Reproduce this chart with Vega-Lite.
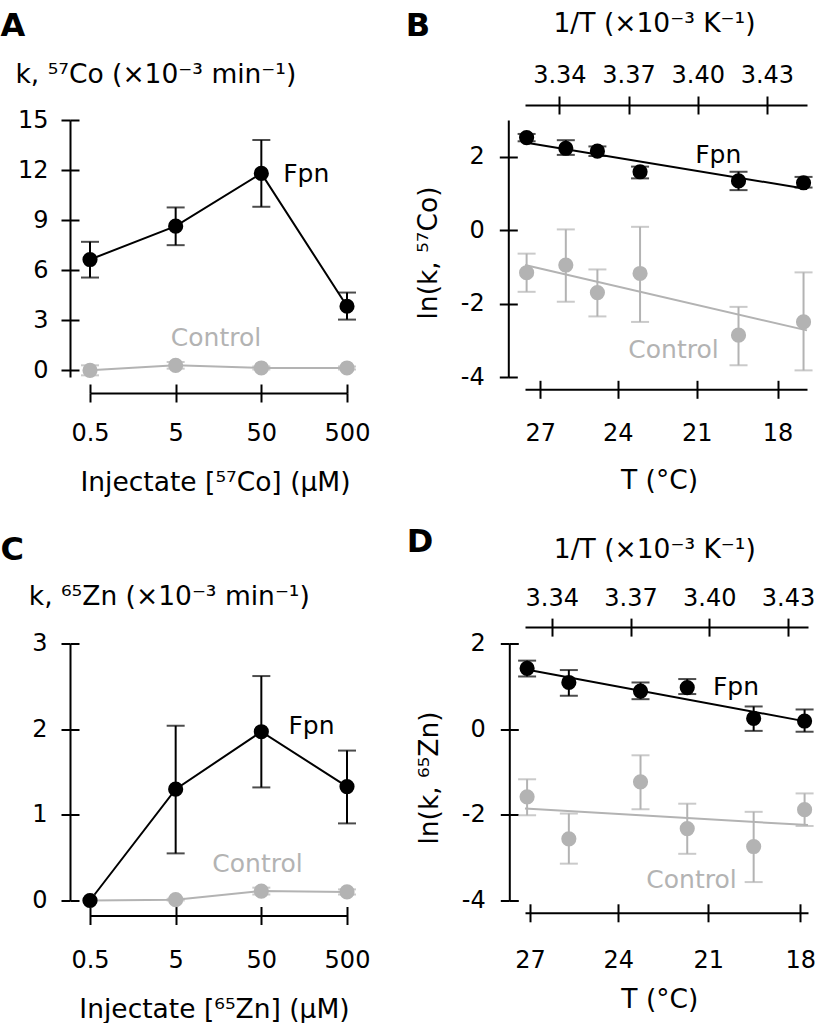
{
  "$schema": "https://vega.github.io/schema/vega-lite/v6.json",
  "autosize": {"type": "pad"},
  "padding": {"left": 0, "top": 9, "right": 0, "bottom": 5},
  "background": "white",
  "datasets": {
    "a": [
      {"series": "Control", "conc": 0.5, "k": 0.0, "lo": -0.3, "hi": 0.3},
      {"series": "Control", "conc": 5, "k": 0.3, "lo": 0.1, "hi": 0.5},
      {"series": "Control", "conc": 50, "k": 0.14, "lo": 0.05, "hi": 0.23},
      {"series": "Control", "conc": 500, "k": 0.14, "lo": 0.05, "hi": 0.23},
      {"series": "Fpn", "conc": 0.5, "k": 6.64, "lo": 5.56, "hi": 7.7},
      {"series": "Fpn", "conc": 5, "k": 8.64, "lo": 7.5, "hi": 9.76},
      {"series": "Fpn", "conc": 50, "k": 11.8, "lo": 9.8, "hi": 13.8},
      {"series": "Fpn", "conc": 500, "k": 3.84, "lo": 3.04, "hi": 4.66}
    ],
    "a_lab": [
      {"series": "Fpn", "label": "Fpn", "conc": 90, "k": 11.75},
      {"series": "Control", "label": "Control", "conc": 4.39, "k": 1.95}
    ],
    "c": [
      {"series": "Control", "conc": 0.5, "k": 0.0, "lo": null, "hi": null},
      {"series": "Control", "conc": 5, "k": 0.01, "lo": 0.0, "hi": 0.02},
      {"series": "Control", "conc": 50, "k": 0.11, "lo": 0.07, "hi": 0.15},
      {"series": "Control", "conc": 500, "k": 0.1, "lo": 0.07, "hi": 0.13},
      {"series": "Fpn", "conc": 0.5, "k": 0.0, "lo": null, "hi": null},
      {"series": "Fpn", "conc": 5, "k": 1.3, "lo": 0.55, "hi": 2.04},
      {"series": "Fpn", "conc": 50, "k": 1.97, "lo": 1.32, "hi": 2.62},
      {"series": "Fpn", "conc": 500, "k": 1.33, "lo": 0.9, "hi": 1.75}
    ],
    "c_lab": [
      {"series": "Fpn", "label": "Fpn", "conc": 103.5, "k": 2.04},
      {"series": "Control", "label": "Control", "conc": 13.4, "k": 0.43}
    ],
    "b": [
      {"series": "Control", "invT": 3.3258, "y": -1.16, "lo": -1.68, "hi": -0.64},
      {"series": "Control", "invT": 3.3428, "y": -0.95, "lo": -1.95, "hi": 0.02},
      {"series": "Control", "invT": 3.3565, "y": -1.7, "lo": -2.35, "hi": -1.07},
      {"series": "Control", "invT": 3.375, "y": -1.18, "lo": -2.5, "hi": 0.09},
      {"series": "Control", "invT": 3.4177, "y": -2.86, "lo": -3.68, "hi": -2.09},
      {"series": "Control", "invT": 3.4459, "y": -2.5, "lo": -3.82, "hi": -1.15},
      {"series": "Fpn", "invT": 3.3258, "y": 2.52, "lo": 2.42, "hi": 2.62},
      {"series": "Fpn", "invT": 3.3428, "y": 2.23, "lo": 2.05, "hi": 2.45},
      {"series": "Fpn", "invT": 3.3565, "y": 2.15, "lo": 2.02, "hi": 2.28},
      {"series": "Fpn", "invT": 3.375, "y": 1.59, "lo": 1.41, "hi": 1.73},
      {"series": "Fpn", "invT": 3.4177, "y": 1.34, "lo": 1.09, "hi": 1.59},
      {"series": "Fpn", "invT": 3.4459, "y": 1.29, "lo": 1.16, "hi": 1.45}
    ],
    "b_fit": [
      {"series": "Control", "invT": 3.3251, "y": -0.95},
      {"series": "Control", "invT": 3.4474, "y": -2.73},
      {"series": "Fpn", "invT": 3.3251, "y": 2.39},
      {"series": "Fpn", "invT": 3.4474, "y": 1.12}
    ],
    "b_lab": [
      {"series": "Fpn", "label": "Fpn", "invT": 3.3989, "y": 2.05},
      {"series": "Control", "label": "Control", "invT": 3.3699, "y": -3.26}
    ],
    "d": [
      {"series": "Control", "invT": 3.3306, "y": -1.58, "lo": -2.01, "hi": -1.17},
      {"series": "Control", "invT": 3.3465, "y": -2.56, "lo": -3.14, "hi": -1.97},
      {"series": "Control", "invT": 3.3738, "y": -1.23, "lo": -1.87, "hi": -0.61},
      {"series": "Control", "invT": 3.3916, "y": -2.32, "lo": -2.91, "hi": -1.74},
      {"series": "Control", "invT": 3.4169, "y": -2.74, "lo": -3.57, "hi": -1.93},
      {"series": "Control", "invT": 3.4363, "y": -1.88, "lo": -2.26, "hi": -1.5},
      {"series": "Fpn", "invT": 3.3306, "y": 1.42, "lo": 1.23, "hi": 1.6},
      {"series": "Fpn", "invT": 3.3465, "y": 1.09, "lo": 0.78, "hi": 1.38},
      {"series": "Fpn", "invT": 3.3738, "y": 0.89, "lo": 0.7, "hi": 1.09},
      {"series": "Fpn", "invT": 3.3916, "y": 0.97, "lo": 0.82, "hi": 1.17},
      {"series": "Fpn", "invT": 3.4169, "y": 0.25, "lo": -0.04, "hi": 0.53},
      {"series": "Fpn", "invT": 3.4363, "y": 0.19, "lo": -0.06, "hi": 0.46}
    ],
    "d_fit": [
      {"series": "Control", "invT": 3.3298, "y": -1.85},
      {"series": "Control", "invT": 3.4376, "y": -2.24},
      {"series": "Fpn", "invT": 3.3298, "y": 1.4},
      {"series": "Fpn", "invT": 3.4376, "y": 0.17}
    ],
    "d_lab": [
      {"series": "Fpn", "label": "Fpn", "invT": 3.4014, "y": 0.99},
      {"series": "Control", "label": "Control", "invT": 3.376, "y": -3.52}
    ]
  },
  "columns": 2,
  "bounds": "flush",
  "spacing": {"row": 266.5, "column": 178},
  "concat": [
    {
      "width": 257, "height": 257,
      "layer": [
        {"data": {"name": "a"}, "mark": {"type": "line", "strokeWidth": 2},
         "encoding": {
           "x": {"field": "conc", "type": "quantitative", "scale": {"type": "log", "domain": [0.5, 500], "nice": false},
                 "axis": {"orient": "bottom", "offset": 16, "values": [0.5, 5, 50, 500], "labelExpr": "''+datum.value", "tickSize": 9, "labelPadding": 19.5, "title": "Injectate [⁵⁷Co] (μM)", "titleAlign": "center", "titleBaseline": "alphabetic", "titleX": 125, "titleY": 97}},
           "y": {"field": "k", "type": "quantitative", "scale": {"domain": [-0.4, 15], "nice": false, "zero": false},
                 "axis": {"orient": "left", "offset": 20, "values": [0, 3, 6, 9, 12, 15], "labelExpr": "''+datum.value", "tickSize": 9, "labelPadding": 13, "title": "k, ⁵⁷Co (×10⁻³ min⁻¹)", "titleAngle": 0, "titleAlign": "left", "titleBaseline": "alphabetic", "titleX": -55, "titleY": -38}},
           "color": {"field": "series", "type": "nominal", "scale": {"domain": ["Fpn", "Control"], "range": ["#000000", "#b3b3b3"]}, "legend": null}
         }},
        {"data": {"name": "a"}, "mark": {"type": "rule", "strokeWidth": 2},
         "encoding": {
           "x": {"field": "conc", "type": "quantitative", "scale": {"type": "log", "domain": [0.5, 500], "nice": false},
                 "axis": {"orient": "bottom", "offset": 16, "values": [0.5, 5, 50, 500], "tickSize": -9, "labels": false, "domain": false, "title": null}},
           "y": {"field": "lo", "type": "quantitative", "scale": {"domain": [-0.4, 15], "nice": false, "zero": false},
                 "axis": {"orient": "left", "offset": 20, "values": [0, 3, 6, 9, 12, 15], "tickSize": -9, "labels": false, "domain": false, "title": "A", "titleFontSize": 32, "titleFontWeight": "bold", "titleAngle": 0, "titleAlign": "left", "titleBaseline": "alphabetic", "titleX": -70, "titleY": -85}},
           "y2": {"field": "hi"},
           "color": {"field": "series", "type": "nominal", "scale": {"domain": ["Fpn", "Control"], "range": ["#000000", "#b3b3b3"]}, "legend": null}
         }},
        {"data": {"name": "a"}, "mark": {"type": "tick", "orient": "horizontal", "size": 18, "thickness": 2},
         "encoding": {
           "x": {"field": "conc", "type": "quantitative", "scale": {"type": "log", "domain": [0.5, 500], "nice": false}, "axis": null},
           "y": {"field": "hi", "type": "quantitative", "scale": {"domain": [-0.4, 15], "nice": false, "zero": false}, "axis": null},
           "color": {"field": "series", "type": "nominal", "scale": {"domain": ["Fpn", "Control"], "range": ["#000000", "#b3b3b3"]}, "legend": null}
         }},
        {"data": {"name": "a"}, "mark": {"type": "tick", "orient": "horizontal", "size": 18, "thickness": 2},
         "encoding": {
           "x": {"field": "conc", "type": "quantitative", "scale": {"type": "log", "domain": [0.5, 500], "nice": false}, "axis": null},
           "y": {"field": "lo", "type": "quantitative", "scale": {"domain": [-0.4, 15], "nice": false, "zero": false}, "axis": null},
           "color": {"field": "series", "type": "nominal", "scale": {"domain": ["Fpn", "Control"], "range": ["#000000", "#b3b3b3"]}, "legend": null}
         }},
        {"data": {"name": "a"}, "mark": {"type": "point", "filled": true, "size": 230, "opacity": 1},
         "encoding": {
           "x": {"field": "conc", "type": "quantitative", "scale": {"type": "log", "domain": [0.5, 500], "nice": false}, "axis": null},
           "y": {"field": "k", "type": "quantitative", "scale": {"domain": [-0.4, 15], "nice": false, "zero": false}, "axis": null},
           "color": {"field": "series", "type": "nominal", "scale": {"domain": ["Fpn", "Control"], "range": ["#000000", "#b3b3b3"]}, "legend": null}
         }},
        {"data": {"name": "a_lab"}, "mark": {"type": "text", "align": "left", "baseline": "middle", "fontSize": 25},
         "encoding": {
           "x": {"field": "conc", "type": "quantitative", "scale": {"type": "log", "domain": [0.5, 500], "nice": false}, "axis": null},
           "y": {"field": "k", "type": "quantitative", "scale": {"domain": [-0.4, 15], "nice": false, "zero": false}, "axis": null},
           "text": {"field": "label"},
           "color": {"field": "series", "type": "nominal", "scale": {"domain": ["Fpn", "Control"], "range": ["#000000", "#b3b3b3"]}, "legend": null}
         }}
      ],
      "resolve": {"axis": {"x": "independent", "y": "independent"}}
    },
    {
      "width": 282, "height": 257,
      "layer": [
        {"data": {"name": "b_fit"}, "mark": {"type": "line", "strokeWidth": 2},
         "encoding": {
           "x": {"field": "invT", "type": "quantitative", "scale": {"domain": [3.3251, 3.4474], "nice": false, "zero": false},
                 "axis": {"orient": "top", "offset": 15, "values": [3.34, 3.37, 3.40, 3.43], "format": ".2f", "tickSize": 9, "labelPadding": 9, "title": "1/T (×10⁻³ K⁻¹)", "titleAlign": "center", "titleBaseline": "alphabetic", "titleX": 129, "titleY": -74}},
           "y": {"field": "y", "type": "quantitative", "scale": {"domain": [-4, 3], "nice": false, "zero": false},
                 "axis": {"orient": "left", "offset": 16.7, "values": [-4, -2, 0, 2], "labelExpr": "''+datum.value", "tickSize": 9, "labelPadding": 15, "title": "ln(k, ⁵⁷Co)", "titleAngle": -90, "titleAlign": "center", "titleBaseline": "alphabetic", "titleX": -71.6, "titleY": 132.5}},
           "color": {"field": "series", "type": "nominal", "scale": {"domain": ["Fpn", "Control"], "range": ["#000000", "#b3b3b3"]}, "legend": null}
         }},
        {"data": {"name": "b"}, "mark": {"type": "rule", "strokeWidth": 2},
         "encoding": {
           "x": {"field": "invT", "type": "quantitative", "scale": {"domain": [3.3251, 3.4474], "nice": false, "zero": false},
                 "axis": {"orient": "top", "offset": 15, "values": [3.34, 3.37, 3.40, 3.43], "tickSize": -9, "labels": false, "domain": false, "title": null}},
           "y": {"field": "lo", "type": "quantitative", "scale": {"domain": [-4, 3], "nice": false, "zero": false},
                 "axis": {"orient": "left", "offset": 16.7, "values": [-4, -2, 0, 2], "tickSize": -9, "labels": false, "domain": false, "title": "B", "titleFontSize": 32, "titleFontWeight": "bold", "titleAngle": 0, "titleAlign": "left", "titleBaseline": "alphabetic", "titleX": -103, "titleY": -85}},
           "y2": {"field": "hi"},
           "color": {"field": "series", "type": "nominal", "scale": {"domain": ["Fpn", "Control"], "range": ["#000000", "#b3b3b3"]}, "legend": null}
         }},
        {"data": {"name": "b"}, "mark": {"type": "tick", "orient": "horizontal", "size": 18, "thickness": 2},
         "encoding": {
           "x": {"field": "invT", "type": "quantitative", "scale": {"domain": [3.3251, 3.4474], "nice": false, "zero": false},
                 "axis": {"orient": "bottom", "offset": 12.3, "values": [3.331667, 3.365304, 3.399626, 3.434656], "labelExpr": "format(1000/datum.value - 273.15, '.0f')", "tickSize": 9, "labelPadding": 23, "title": "T (°C)", "titleAlign": "center", "titleBaseline": "alphabetic", "titleX": 134, "titleY": 99}},
           "y": {"field": "hi", "type": "quantitative", "scale": {"domain": [-4, 3], "nice": false, "zero": false}, "axis": null},
           "color": {"field": "series", "type": "nominal", "scale": {"domain": ["Fpn", "Control"], "range": ["#000000", "#b3b3b3"]}, "legend": null}
         }},
        {"data": {"name": "b"}, "mark": {"type": "tick", "orient": "horizontal", "size": 18, "thickness": 2},
         "encoding": {
           "x": {"field": "invT", "type": "quantitative", "scale": {"domain": [3.3251, 3.4474], "nice": false, "zero": false},
                 "axis": {"orient": "bottom", "offset": 12.3, "values": [3.331667, 3.365304, 3.399626, 3.434656], "tickSize": -9, "labels": false, "domain": false, "title": null}},
           "y": {"field": "lo", "type": "quantitative", "scale": {"domain": [-4, 3], "nice": false, "zero": false}, "axis": null},
           "color": {"field": "series", "type": "nominal", "scale": {"domain": ["Fpn", "Control"], "range": ["#000000", "#b3b3b3"]}, "legend": null}
         }},
        {"data": {"name": "b"}, "mark": {"type": "point", "filled": true, "size": 230, "opacity": 1},
         "encoding": {
           "x": {"field": "invT", "type": "quantitative", "scale": {"domain": [3.3251, 3.4474], "nice": false, "zero": false}, "axis": null},
           "y": {"field": "y", "type": "quantitative", "scale": {"domain": [-4, 3], "nice": false, "zero": false}, "axis": null},
           "color": {"field": "series", "type": "nominal", "scale": {"domain": ["Fpn", "Control"], "range": ["#000000", "#b3b3b3"]}, "legend": null}
         }},
        {"data": {"name": "b_lab"}, "mark": {"type": "text", "align": "left", "baseline": "middle", "fontSize": 25},
         "encoding": {
           "x": {"field": "invT", "type": "quantitative", "scale": {"domain": [3.3251, 3.4474], "nice": false, "zero": false}, "axis": null},
           "y": {"field": "y", "type": "quantitative", "scale": {"domain": [-4, 3], "nice": false, "zero": false}, "axis": null},
           "text": {"field": "label"},
           "color": {"field": "series", "type": "nominal", "scale": {"domain": ["Fpn", "Control"], "range": ["#000000", "#b3b3b3"]}, "legend": null}
         }}
      ],
      "resolve": {"axis": {"x": "independent", "y": "independent"}}
    },
    {
      "width": 257, "height": 257,
      "layer": [
        {"data": {"name": "c"}, "mark": {"type": "line", "strokeWidth": 2},
         "encoding": {
           "x": {"field": "conc", "type": "quantitative", "scale": {"type": "log", "domain": [0.5, 500], "nice": false},
                 "axis": {"orient": "bottom", "offset": 15, "values": [0.5, 5, 50, 500], "labelExpr": "''+datum.value", "tickSize": 9, "labelPadding": 24, "title": "Injectate [⁶⁵Zn] (μM)", "titleAlign": "center", "titleBaseline": "alphabetic", "titleX": 124, "titleY": 101.7}},
           "y": {"field": "k", "type": "quantitative", "scale": {"domain": [0, 3], "nice": false, "zero": false},
                 "axis": {"orient": "left", "offset": 20, "values": [0, 1, 2, 3], "labelExpr": "''+datum.value", "tickSize": 9, "labelPadding": 14, "title": "k, ⁶⁵Zn (×10⁻³ min⁻¹)", "titleAngle": 0, "titleAlign": "left", "titleBaseline": "alphabetic", "titleX": -41.7, "titleY": -39}},
           "color": {"field": "series", "type": "nominal", "scale": {"domain": ["Fpn", "Control"], "range": ["#000000", "#b3b3b3"]}, "legend": null}
         }},
        {"data": {"name": "c"}, "mark": {"type": "rule", "strokeWidth": 2},
         "encoding": {
           "x": {"field": "conc", "type": "quantitative", "scale": {"type": "log", "domain": [0.5, 500], "nice": false},
                 "axis": {"orient": "bottom", "offset": 15, "values": [0.5, 5, 50, 500], "tickSize": -9, "labels": false, "domain": false, "title": null}},
           "y": {"field": "lo", "type": "quantitative", "scale": {"domain": [0, 3], "nice": false, "zero": false},
                 "axis": {"orient": "left", "offset": 20, "values": [0, 1, 2, 3], "tickSize": -9, "labels": false, "domain": false, "title": "C", "titleFontSize": 32, "titleFontWeight": "bold", "titleAngle": 0, "titleAlign": "left", "titleBaseline": "alphabetic", "titleX": -70, "titleY": -84}},
           "y2": {"field": "hi"},
           "color": {"field": "series", "type": "nominal", "scale": {"domain": ["Fpn", "Control"], "range": ["#000000", "#b3b3b3"]}, "legend": null}
         }},
        {"data": {"name": "c"}, "mark": {"type": "tick", "orient": "horizontal", "size": 18, "thickness": 2},
         "encoding": {
           "x": {"field": "conc", "type": "quantitative", "scale": {"type": "log", "domain": [0.5, 500], "nice": false}, "axis": null},
           "y": {"field": "hi", "type": "quantitative", "scale": {"domain": [0, 3], "nice": false, "zero": false}, "axis": null},
           "color": {"field": "series", "type": "nominal", "scale": {"domain": ["Fpn", "Control"], "range": ["#000000", "#b3b3b3"]}, "legend": null}
         }},
        {"data": {"name": "c"}, "mark": {"type": "tick", "orient": "horizontal", "size": 18, "thickness": 2},
         "encoding": {
           "x": {"field": "conc", "type": "quantitative", "scale": {"type": "log", "domain": [0.5, 500], "nice": false}, "axis": null},
           "y": {"field": "lo", "type": "quantitative", "scale": {"domain": [0, 3], "nice": false, "zero": false}, "axis": null},
           "color": {"field": "series", "type": "nominal", "scale": {"domain": ["Fpn", "Control"], "range": ["#000000", "#b3b3b3"]}, "legend": null}
         }},
        {"data": {"name": "c"}, "mark": {"type": "point", "filled": true, "size": 230, "opacity": 1},
         "encoding": {
           "x": {"field": "conc", "type": "quantitative", "scale": {"type": "log", "domain": [0.5, 500], "nice": false}, "axis": null},
           "y": {"field": "k", "type": "quantitative", "scale": {"domain": [0, 3], "nice": false, "zero": false}, "axis": null},
           "color": {"field": "series", "type": "nominal", "scale": {"domain": ["Fpn", "Control"], "range": ["#000000", "#b3b3b3"]}, "legend": null}
         }},
        {"data": {"name": "c_lab"}, "mark": {"type": "text", "align": "left", "baseline": "middle", "fontSize": 25},
         "encoding": {
           "x": {"field": "conc", "type": "quantitative", "scale": {"type": "log", "domain": [0.5, 500], "nice": false}, "axis": null},
           "y": {"field": "k", "type": "quantitative", "scale": {"domain": [0, 3], "nice": false, "zero": false}, "axis": null},
           "text": {"field": "label"},
           "color": {"field": "series", "type": "nominal", "scale": {"domain": ["Fpn", "Control"], "range": ["#000000", "#b3b3b3"]}, "legend": null}
         }}
      ],
      "resolve": {"axis": {"x": "independent", "y": "independent"}}
    },
    {
      "width": 283, "height": 257,
      "layer": [
        {"data": {"name": "d_fit"}, "mark": {"type": "line", "strokeWidth": 2},
         "encoding": {
           "x": {"field": "invT", "type": "quantitative", "scale": {"domain": [3.3298, 3.4376], "nice": false, "zero": false},
                 "axis": {"orient": "top", "offset": 16.4, "values": [3.34, 3.37, 3.40, 3.43], "format": ".2f", "tickSize": 9, "labelPadding": 8, "title": "1/T (×10⁻³ K⁻¹)", "titleAlign": "center", "titleBaseline": "alphabetic", "titleX": 129.3, "titleY": -69.6}},
           "y": {"field": "y", "type": "quantitative", "scale": {"domain": [-4, 2], "nice": false, "zero": false},
                 "axis": {"orient": "left", "offset": 15.7, "values": [-4, -2, 0, 2], "labelExpr": "''+datum.value", "tickSize": 9, "labelPadding": 15, "title": "ln(k, ⁶⁵Zn)", "titleAngle": -90, "titleAlign": "center", "titleBaseline": "alphabetic", "titleX": -71.6, "titleY": 134}},
           "color": {"field": "series", "type": "nominal", "scale": {"domain": ["Fpn", "Control"], "range": ["#000000", "#b3b3b3"]}, "legend": null}
         }},
        {"data": {"name": "d"}, "mark": {"type": "rule", "strokeWidth": 2},
         "encoding": {
           "x": {"field": "invT", "type": "quantitative", "scale": {"domain": [3.3298, 3.4376], "nice": false, "zero": false},
                 "axis": {"orient": "top", "offset": 16.4, "values": [3.34, 3.37, 3.40, 3.43], "tickSize": -9, "labels": false, "domain": false, "title": null}},
           "y": {"field": "lo", "type": "quantitative", "scale": {"domain": [-4, 2], "nice": false, "zero": false},
                 "axis": {"orient": "left", "offset": 15.7, "values": [-4, -2, 0, 2], "tickSize": -9, "labels": false, "domain": false, "title": "D", "titleFontSize": 32, "titleFontWeight": "bold", "titleAngle": 0, "titleAlign": "left", "titleBaseline": "alphabetic", "titleX": -103, "titleY": -92}},
           "y2": {"field": "hi"},
           "color": {"field": "series", "type": "nominal", "scale": {"domain": ["Fpn", "Control"], "range": ["#000000", "#b3b3b3"]}, "legend": null}
         }},
        {"data": {"name": "d"}, "mark": {"type": "tick", "orient": "horizontal", "size": 18, "thickness": 2},
         "encoding": {
           "x": {"field": "invT", "type": "quantitative", "scale": {"domain": [3.3298, 3.4376], "nice": false, "zero": false},
                 "axis": {"orient": "bottom", "offset": 12.3, "values": [3.331667, 3.365304, 3.399626, 3.434656], "labelExpr": "format(1000/datum.value - 273.15, '.0f')", "tickSize": 9, "labelPadding": 26.5, "title": "T (°C)", "titleAlign": "center", "titleBaseline": "alphabetic", "titleX": 134.3, "titleY": 94.4}},
           "y": {"field": "hi", "type": "quantitative", "scale": {"domain": [-4, 2], "nice": false, "zero": false}, "axis": null},
           "color": {"field": "series", "type": "nominal", "scale": {"domain": ["Fpn", "Control"], "range": ["#000000", "#b3b3b3"]}, "legend": null}
         }},
        {"data": {"name": "d"}, "mark": {"type": "tick", "orient": "horizontal", "size": 18, "thickness": 2},
         "encoding": {
           "x": {"field": "invT", "type": "quantitative", "scale": {"domain": [3.3298, 3.4376], "nice": false, "zero": false},
                 "axis": {"orient": "bottom", "offset": 12.3, "values": [3.331667, 3.365304, 3.399626, 3.434656], "tickSize": -9, "labels": false, "domain": false, "title": null}},
           "y": {"field": "lo", "type": "quantitative", "scale": {"domain": [-4, 2], "nice": false, "zero": false}, "axis": null},
           "color": {"field": "series", "type": "nominal", "scale": {"domain": ["Fpn", "Control"], "range": ["#000000", "#b3b3b3"]}, "legend": null}
         }},
        {"data": {"name": "d"}, "mark": {"type": "point", "filled": true, "size": 230, "opacity": 1},
         "encoding": {
           "x": {"field": "invT", "type": "quantitative", "scale": {"domain": [3.3298, 3.4376], "nice": false, "zero": false}, "axis": null},
           "y": {"field": "y", "type": "quantitative", "scale": {"domain": [-4, 2], "nice": false, "zero": false}, "axis": null},
           "color": {"field": "series", "type": "nominal", "scale": {"domain": ["Fpn", "Control"], "range": ["#000000", "#b3b3b3"]}, "legend": null}
         }},
        {"data": {"name": "d_lab"}, "mark": {"type": "text", "align": "left", "baseline": "middle", "fontSize": 25},
         "encoding": {
           "x": {"field": "invT", "type": "quantitative", "scale": {"domain": [3.3298, 3.4376], "nice": false, "zero": false}, "axis": null},
           "y": {"field": "y", "type": "quantitative", "scale": {"domain": [-4, 2], "nice": false, "zero": false}, "axis": null},
           "text": {"field": "label"},
           "color": {"field": "series", "type": "nominal", "scale": {"domain": ["Fpn", "Control"], "range": ["#000000", "#b3b3b3"]}, "legend": null}
         }}
      ],
      "resolve": {"axis": {"x": "independent", "y": "independent"}}
    }
  ],
  "config": {
    "font": "DejaVu Sans",
    "view": {"stroke": null},
    "axis": {
      "grid": false,
      "domainColor": "#000000",
      "domainWidth": 2,
      "tickColor": "#000000",
      "tickWidth": 2,
      "labelFont": "DejaVu Sans",
      "labelFontSize": 24,
      "labelColor": "#000000",
      "labelFlush": false,
      "labelOverlap": false,
      "titleFont": "DejaVu Sans",
      "titleFontSize": 26.5,
      "titleFontWeight": "normal",
      "titleColor": "#000000"
    }
  }
}
